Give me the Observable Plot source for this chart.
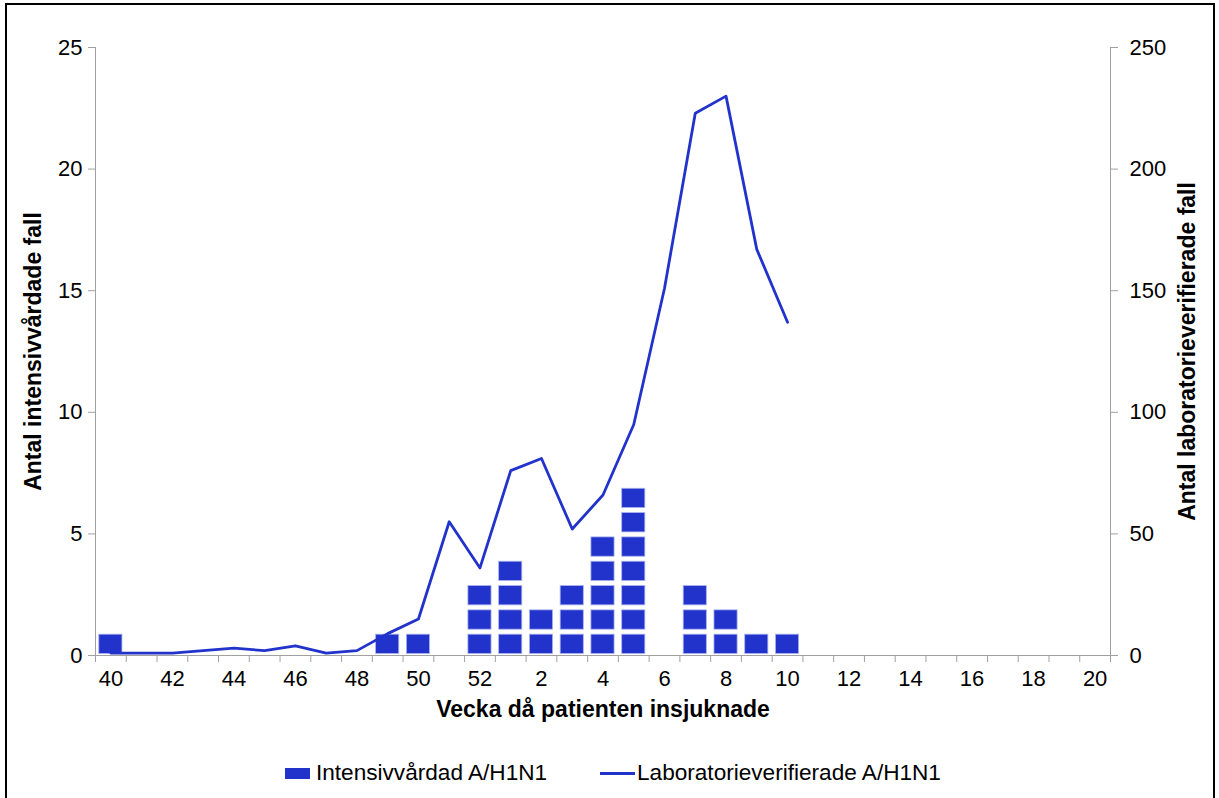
<!DOCTYPE html>
<html>
<head>
<meta charset="utf-8">
<script src="https://cdn.jsdelivr.net/npm/d3@7"></script>
<script src="https://cdn.jsdelivr.net/npm/@observablehq/plot@0.6"></script>
<style>
  html, body { margin: 0; padding: 0; background: #fff; }
  body { width: 1219px; height: 798px; position: relative; overflow: hidden; font-family: "Liberation Sans", Arial, sans-serif; }
  #frame { position: absolute; left: 5px; top: 3px; width: 1210px; height: 820px; border: 2px solid #000; pointer-events: none; box-sizing: border-box; }
  #chart { position: absolute; left: 0; top: 0; }
  .leg { position: absolute; top: 760px; font-size: 22.6px; line-height: 26px; color: #000; display: flex; align-items: center; white-space: nowrap; }
  .sw-box { width: 25px; height: 11px; background: #2233cc; margin-right: 6px; }
  .sw-line { width: 35px; height: 3px; background: #2233cc; margin-right: 2px; }
</style>
</head>
<body>
<div id="chart"></div>
<div class="leg" style="left:285px"><span class="sw-box"></span>Intensivvårdad A/H1N1</div>
<div class="leg" style="left:600px"><span class="sw-line"></span>Laboratorieverifierade A/H1N1</div>
<div id="frame"></div>
<script>
// Week of illness onset (2009 week 40 .. 2010 week 20)
const weeks = [40,41,42,43,44,45,46,47,48,49,50,51,52,1,2,3,4,5,6,7,8,9,10,11,12,13,14,15,16,17,18,19,20];
// Intensive care cases per week (left axis)
const icuCases = [1,0,0,0,0,0,0,0,0,1,1,0,3,4,2,3,5,7,0,3,2,1,1,0,0,0,0,0,0,0,0,0,0];
// Laboratory verified cases per week (right axis), weeks 40..10
const labCases = [1,1,1,2,3,2,4,1,2,9,15,55,36,76,81,52,66,95,151,223,230,167,137];
// Axis ticks
const leftTicks = [0,5,10,15,20,25];
const rightScale = 10; // right axis = left axis * 10

const blue = "#2233cc";

// One unit square per ICU case
const squares = [];
icuCases.forEach((n, i) => { for (let k = 0; k < n; k++) squares.push({i, k}); });
const labData = labCases.map((v, i) => ({i, v}));
const labelIdx = weeks.map((w, i) => i).filter(i => weeks[i] % 2 === 0);

const chart = Plot.plot({
  width: 1219,
  height: 745,
  marginLeft: 95,
  marginRight: 109,
  marginTop: 47,
  marginBottom: 90,
  style: {fontFamily: "'Liberation Sans', Arial, sans-serif", fontSize: "22px", color: "#000", background: "transparent"},
  x: {domain: [0, weeks.length], axis: null},
  y: {domain: [0, 25], axis: null},
  marks: [
    Plot.ruleY([0], {stroke: "#a0a0a0", strokeWidth: 1}),
    Plot.ruleX([0, weeks.length], {stroke: "#a0a0a0", strokeWidth: 1}),
    Plot.rect(squares, {
      x1: d => d.i, x2: d => d.i + 1, y1: d => d.k, y2: d => d.k + 1,
      insetLeft: 3.8, insetRight: 3.8, insetTop: 3.5, insetBottom: 1.5,
      fill: blue, stroke: "#aab3ee", strokeWidth: 0.8
    }),
    Plot.line(labData, {x: d => d.i + 0.5, y: d => d.v / rightScale, stroke: blue, strokeWidth: 2.8}),
    // x tick marks at week boundaries
    Plot.axisX({ticks: d3.range(weeks.length + 1), tickSize: 7, tickFormat: () => "", stroke: "#a0a0a0", label: null}),
    // x labels at week centers
    Plot.axisX({ticks: labelIdx.map(i => i + 0.5), tickSize: 0, tickPadding: 15, fontSize: 22,
      tickFormat: t => String(weeks[Math.floor(t)]), label: null, fill: "#000"}),
    Plot.axisY({ticks: leftTicks, tickSize: 7, tickPadding: 6, fontSize: 22, stroke: "#a0a0a0", fill: "#000", label: null}),
    Plot.axisY({anchor: "right", ticks: leftTicks, tickSize: 7, tickPadding: 12, fontSize: 22, stroke: "#a0a0a0", fill: "#000",
      tickFormat: d => String(d * rightScale), label: null}),
    Plot.text(["Antal intensivvårdade fall"], {frameAnchor: "left", dx: -62, rotate: -90, textAnchor: "middle", fontWeight: "bold", fontSize: 23, fill: "#000"}),
    Plot.text(["Antal laboratorieverifierade fall"], {frameAnchor: "right", dx: 77, rotate: -90, textAnchor: "middle", fontWeight: "bold", fontSize: 23, fill: "#000"}),
    Plot.text(["Vecka då patienten insjuknade"], {frameAnchor: "bottom", dy: 61, fontWeight: "bold", fontSize: 23, fill: "#000"})
  ]
});
document.getElementById("chart").appendChild(chart);
</script>
</body>
</html>
